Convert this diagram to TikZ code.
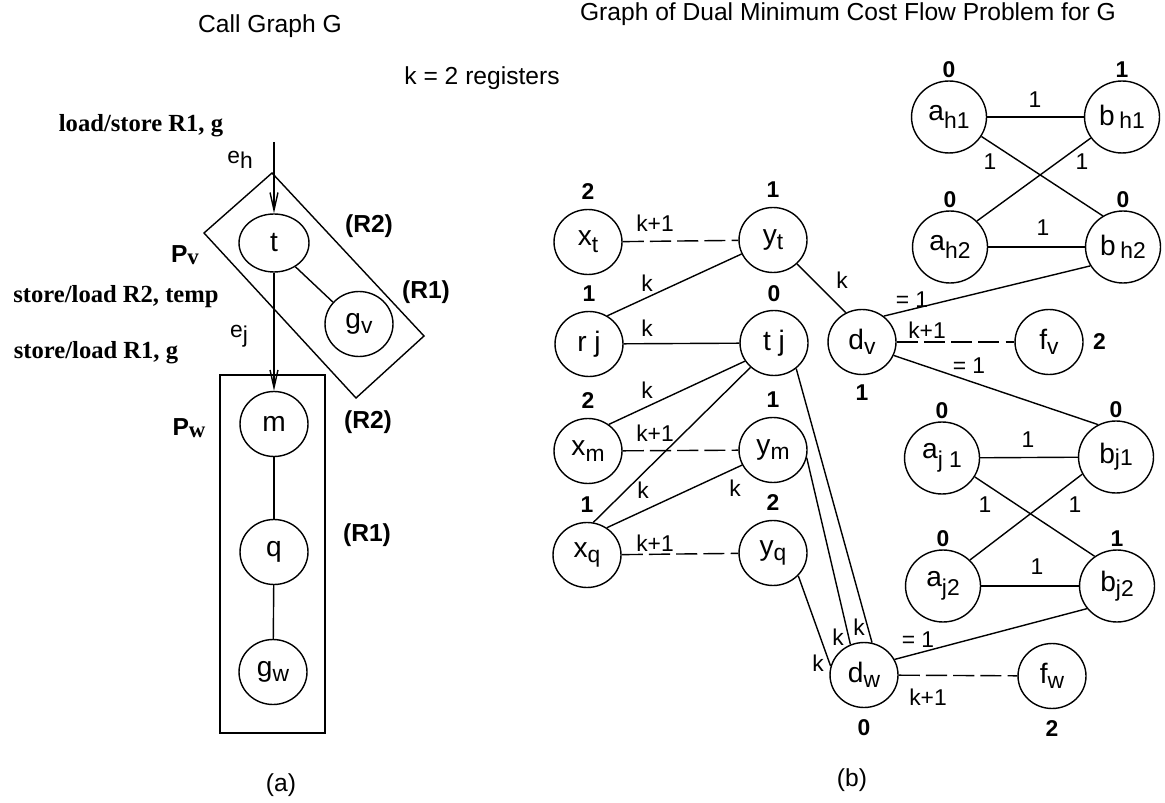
\documentclass[tikz,border=0pt]{standalone}
\usepackage{fontspec}
\setmainfont{Liberation Sans}
\newfontfamily\serif{Liberation Serif}
\usetikzlibrary{positioning,shapes.geometric,arrows.meta}

\newcommand\fsn{\fontsize{13}{15}\selectfont}
\newcommand\fsv{\fontsize{16}{18}\selectfont}
\newcommand\fsh{\fontsize{14}{16}\selectfont}
\newcommand\lo[2][3pt]{\raisebox{-#1}{\fsn #2}}

\begin{document}
\begin{tikzpicture}[x=0.02cm, y=-0.02cm, line width=0.8pt,
  vtx/.style={draw, ellipse, inner sep=0pt, minimum width=1.36cm, minimum height=1.30cm, font=\fsv},
  bigvtx/.style={vtx, minimum width=1.5cm, minimum height=1.44cm},
  lbl/.style={font=\fsn, inner sep=1pt},
  cost/.style={font=\fsn\bfseries, inner sep=0pt},
  reg/.style={font=\fsh\bfseries},
  code/.style={font=\serif\fsh\bfseries},
  title/.style={font=\fsh},
  spill/.style={dash pattern=on 12pt off 3.5pt},
  >={Straight Barb[length=10pt,width=4.5pt]}]
  \useasboundingbox (0,0) rectangle (1165,803);

  % headings
  \node[title] (ttlA) at (270,26) {Call Graph G};
  \node[title] (ttlB) at (848,14) {Graph of Dual Minimum Cost Flow Problem for G};
  \node[title] (kreg) at (482,78) {k = 2 registers};

  % (a) call graph
  \node[vtx, minimum width=1.4cm, minimum height=1.16cm] (t) at (274,243) {t};
  \node[vtx] (gv) at (359,324) {g\lo{v}};
  \node[vtx] (m) at (274,424) {m};
  \node[vtx] (q) at (274,552) {q};
  \node[vtx] (gw) at (273,672) {g\lo{w}};

  \draw (272,173) -- (424,336) -- (356,398) -- (204,233) -- cycle;
  \draw (220,375) rectangle (325,733);

  \coordinate (eh) at (274,142);
  \draw[->] (eh) -- (t);
  \draw[->] (t) -- (m);
  \draw (t.-48) -- (gv.140);
  \draw (m) -- (q);
  \draw (q) -- (gw);

  \node[code] (ldA) at (141,126) {load/store R1, g};
  \node[lbl] (ehl) at (240,160) {e\lo{h}};
  \node[font=\fsh\bfseries] (pv) at (185,255) {P\raisebox{-1pt}{\serif\fsn v}};
  \node[reg] (r2a) at (369,226) {(R2)};
  \node[reg] (r1a) at (426,292) {(R1)};
  \node[code] (slA) at (116,297) {store/load R2, temp};
  \node[lbl] (ejl) at (239,336) {e\lo{j}};
  \node[code] (slB) at (96,353) {store/load R1, g};
  \node[font=\fsh\bfseries] (pw) at (189,428) {P\raisebox{-1pt}{\serif\fsn w}};
  \node[reg] (r2b) at (368,422) {(R2)};
  \node[reg] (r1b) at (367,535) {(R1)};
  \node[title] (capA) at (281,785) {(a)};

  % (b) dual minimum cost flow graph
  \node[vtx] (xt) at (588,242) {x\lo[4pt]{t}};
  \node[vtx] (yt) at (773,240) {y\lo{t}};
  \node[vtx] (rj) at (589,344) {r j};
  \node[vtx] (tj) at (774,343) {t j};
  \node[vtx] (xm) at (588,451) {x\lo{m}};
  \node[vtx] (ym) at (773,450) {y\lo{m}};
  \node[vtx] (xq) at (587,555) {x\lo{q}};
  \node[vtx] (yq) at (773,553) {y\lo{q}};
  \node[vtx] (dv) at (862,342) {d\lo{v}};
  \node[vtx] (fv) at (1049,342) {f\lo{v}};
  \node[vtx] (dw) at (864,675) {d\lo{w}};
  \node[vtx] (fw) at (1052,676) {f\lo{w}};
  \node[bigvtx] (ah1) at (949,117) {a\lo[5pt]{h1}};
  \node[bigvtx] (bh1) at (1122,117) {b\,\lo[2pt]{h1}};
  \node[bigvtx] (ah2) at (950,247) {a\lo[5pt]{h2}};
  \node[bigvtx] (bh2) at (1123,247) {b\,\lo[2pt]{h2}};
  \node[bigvtx] (aj1) at (942,458) {a\lo[5pt]{j 1}};
  \node[bigvtx] (bj1) at (1116,457) {b\lo[1pt]{j1}};
  \node[bigvtx] (aj2) at (943,586) {a\lo[5pt]{j2}};
  \node[bigvtx] (bj2) at (1117,586) {b\lo[3pt]{j2}};

  \node[cost, above=5pt of xt] (cxt) {2};
  \node[cost, above=5pt of yt] (cyt) {1};
  \node[cost, above=5pt of rj] (crj) {1};
  \node[cost, above=4pt of tj] (ctj) {0};
  \node[cost, above=5pt of xm] (cxm) {2};
  \node[cost, above=5pt of ym] (cym) {1};
  \node[cost, above=5pt of xq] (cxq) {1};
  \node[cost, above=5pt of yq] (cyq) {2};
  \node[cost, below=5pt of dv] (cdv) {1};
  \node[cost, right=5pt of fv] (cfv) {2};
  \node[cost, below=6pt of dw] (cdw) {0};
  \node[cost, below=6pt of fw] (cfw) {2};
  \node[cost, above=1pt of ah1] (cah1) {0};
  \node[cost, above=1pt of bh1] (cbh1) {1};
  \node[cost, above=1pt of ah2] (cah2) {0};
  \node[cost, above=1pt of bh2] (cbh2) {0};
  \node[cost, above=1pt of aj1] (caj1) {0};
  \node[cost, above=1pt of bj1] (cbj1) {0};
  \node[cost, above=1pt of aj2] (caj2) {0};
  \node[cost, above=1pt of bj2] (cbj2) {1};

  \draw[spill] (xt) -- (yt);
  \draw (rj.57) -- (yt.204);
  \draw (rj) -- (tj);
  \draw (xm.52) -- (tj.212);
  \draw[spill] (xm) -- (ym);
  \draw (xq.79) -- (tj.226);
  \draw (xq.54) -- (ym.206);
  \draw[spill] (xq) -- (yq);
  \draw (yt.-45) -- (dv.119);
  \draw (tj.-49) -- (dw.76);
  \draw (ym.-13) -- (dw.114);
  \draw (yq.-42) -- (dw.165);
  \draw (dv.50) -- (bh2.210);
  \draw[spill] (dv) -- (fv);
  \draw (dv.-23) -- (bj1.119);
  \draw (dw.27) -- (bj2.217);
  \draw[spill] (dw) -- (fw);
  \draw (ah1) -- (bh1);
  \draw (ah1.-31) -- (bh2.123);
  \draw (ah2.44) -- (bh1.214);
  \draw (ah2) -- (bh2);
  \draw (aj1) -- (bj1);
  \draw (aj1.-30) -- (bj2.127);
  \draw (aj2.44) -- (bj1.207);
  \draw (aj2) -- (bj2);

  \node[lbl] (kxt) at (655,223) {k+1};
  \node[lbl] (krt) at (647,283) {k};
  \node[lbl] (krj) at (647,328) {k};
  \node[lbl] (kxm) at (647,390) {k};
  \node[lbl] (kxym) at (655,433) {k+1};
  \node[lbl] (kxq) at (643,490) {k};
  \node[lbl] (kxqy) at (735,488) {k};
  \node[lbl] (kxyq) at (655,543) {k+1};
  \node[lbl] (kyd) at (842,280) {k};
  \node[lbl] (kyq) at (818,663) {k};
  \node[lbl] (kym) at (838,637) {k};
  \node[lbl] (ktj) at (859,627) {k};
  \node[lbl] (edv) at (912,300) {= 1};
  \node[lbl] (kdv) at (927,330) {k+1};
  \node[lbl] (edj) at (969,366) {= 1};
  \node[lbl] (edw) at (918,640) {= 1};
  \node[lbl] (kdw) at (928,697) {k+1};
  \node[lbl] (o1) at (1035,100) {1};
  \node[lbl] (o2) at (990,162) {1};
  \node[lbl] (o3) at (1082,162) {1};
  \node[lbl] (o4) at (1043,228) {1};
  \node[lbl] (o5) at (1028,440) {1};
  \node[lbl] (o6) at (985,505) {1};
  \node[lbl] (o7) at (1075,505) {1};
  \node[lbl] (o8) at (1037,567) {1};
  \node[title] (capB) at (852,780) {(b)};
\end{tikzpicture}
\end{document}
